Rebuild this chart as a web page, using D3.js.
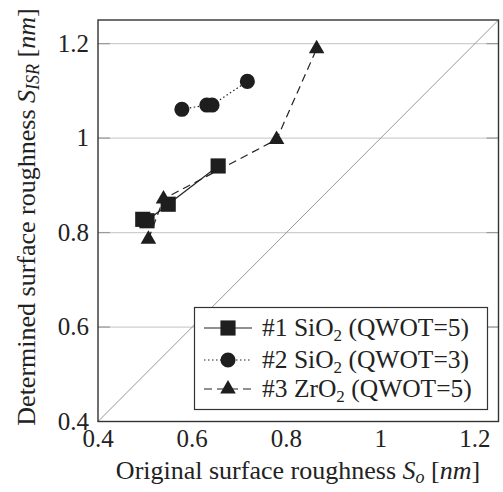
<!DOCTYPE html>
<html>
<head>
<meta charset="utf-8">
<script src="https://cdn.jsdelivr.net/npm/d3@7"></script>
<style>
  body { margin: 0; background: #fff; }
  svg text { font-family: 'Liberation Serif', 'DejaVu Serif', serif; fill: #222; }
</style>
</head>
<body>
<svg id="chart" width="503" height="492"></svg>
<script>
// values
const s1x = [0.495, 0.504, 0.549, 0.655]
const s1y = [0.828, 0.825, 0.86, 0.941]
const s2x = [0.578, 0.631, 0.642, 0.717]
const s2y = [1.061, 1.07, 1.07, 1.12]
const s3x = [0.507, 0.539, 0.779, 0.864]
const s3y = [0.786, 0.871, 0.997, 1.189]
const xTicks = [0.4, 0.6, 0.8, 1, 1.2]
const yTicks = [0.4, 0.6, 0.8, 1, 1.2]
const legendNames = [["#1 SiO", "2", " (QWOT=5)"], ["#2 SiO", "2", " (QWOT=3)"], ["#3 ZrO", "2", " (QWOT=5)"]]

const mLeft = 98, mRight = 498.5, mTop = 20, mBottom = 421.5
const svg = d3.select('#chart')

const x = d3.scaleLinear().domain([0.4, 1.25]).range([mLeft, mRight])
const y = d3.scaleLinear().domain([0.4, 1.25]).range([mBottom, mTop])

// horizontal grid + ticks on both sides
const g = svg.append('g')
const inner = yTicks.filter(d => d > 0.4)
g.append('g').selectAll('line')
    .data(inner)
    .join('line')
    .attr('x1', mLeft).attr('x2', mRight)
    .attr('y1', d => y(d)).attr('y2', d => y(d))
    .attr('stroke', '#cfcfcf').attr('stroke-width', 1.2)
g.append('g').selectAll('line')
    .data(inner)
    .join('line')
    .attr('x1', mLeft).attr('x2', mLeft + 12)
    .attr('y1', d => y(d)).attr('y2', d => y(d))
    .attr('stroke', '#9a9a9a').attr('stroke-width', 1.2)
g.append('g').selectAll('line')
    .data(inner)
    .join('line')
    .attr('x1', mRight - 12).attr('x2', mRight)
    .attr('y1', d => y(d)).attr('y2', d => y(d))
    .attr('stroke', '#9a9a9a').attr('stroke-width', 1.2)

// diagonal y = x
svg.append('line')
    .attr('x1', x(0.4)).attr('y1', y(0.4))
    .attr('x2', x(1.25)).attr('y2', y(1.25))
    .attr('stroke', '#999').attr('stroke-width', 1)

// axis box
svg.append('rect')
    .attr('x', mLeft).attr('y', mTop)
    .attr('width', mRight - mLeft).attr('height', mBottom - mTop)
    .attr('fill', 'none').attr('stroke', '#333').attr('stroke-width', 1.4)

const fmt = d => d === 1 ? '1' : String(d)

svg.append('g').selectAll('text')
    .data(xTicks)
    .join('text')
    .attr('x', d => x(d)).attr('y', 447)
    .attr('text-anchor', 'middle')
    .attr('font-size', 25)
    .text(fmt)

svg.append('g').selectAll('text')
    .data(yTicks)
    .join('text')
    .attr('x', 89).attr('y', d => y(d) + 8)
    .attr('text-anchor', 'end')
    .attr('font-size', 25)
    .text(fmt)

// axis titles
const xt = svg.append('text')
    .attr('x', 298).attr('y', 479)
    .attr('text-anchor', 'middle')
    .attr('font-size', 26)
xt.append('tspan').text('Original surface roughness ')
xt.append('tspan').attr('font-style', 'italic').text('S')
xt.append('tspan').attr('font-style', 'italic').attr('font-size', 18).attr('dy', 4).text('o')
xt.append('tspan').attr('dy', -4).text(' [')
xt.append('tspan').attr('font-style', 'italic').text('nm')
xt.append('tspan').text(']')

const yt = svg.append('text')
    .attr('transform', 'translate(35,217) rotate(-90)')
    .attr('text-anchor', 'middle')
    .attr('font-size', 26)
yt.append('tspan').text('Determined surface roughness ')
yt.append('tspan').attr('font-style', 'italic').text('S')
yt.append('tspan').attr('font-style', 'italic').attr('font-size', 18).attr('dy', 4).text('ISR')
yt.append('tspan').attr('dy', -4).text(' [')
yt.append('tspan').attr('font-style', 'italic').text('nm')
yt.append('tspan').text(']')

// series
const series = [
    {xs: s1x, ys: s1y, dash: null, mark: d3.symbolSquare, size: 230},
    {xs: s2x, ys: s2y, dash: '1.5,2.5', mark: d3.symbolCircle, size: 180},
    {xs: s3x, ys: s3y, dash: '8,5', mark: d3.symbolTriangle, size: 105}
]
const line = d3.line().x(d => x(d[0])).y(d => y(d[1]))

series.forEach(s => {
    const pts = s.xs.map((v, i) => [v, s.ys[i]])
    svg.append('path')
        .attr('d', line(pts))
        .attr('fill', 'none')
        .attr('stroke', '#222')
        .attr('stroke-width', 1.2)
        .attr('stroke-dasharray', s.dash)
    svg.append('g').selectAll('path')
        .data(pts)
        .join('path')
        .attr('transform', d => `translate(${x(d[0])},${y(d[1])})`)
        .attr('d', d3.symbol(s.mark, s.size))
        .attr('fill', '#1e1e1e')
})

// legend
const lg = svg.append('g')
lg.append('rect')
    .attr('x', 194.5).attr('y', 307.5)
    .attr('width', 293).attr('height', 102)
    .attr('fill', '#fff').attr('stroke', '#333').attr('stroke-width', 1.2)
const rowY = [328, 360, 389]
series.forEach((s, i) => {
    const ry = rowY[i]
    lg.append('line')
        .attr('x1', 204).attr('x2', 252)
        .attr('y1', ry).attr('y2', ry)
        .attr('stroke', '#222').attr('stroke-width', 1.2)
        .attr('stroke-dasharray', s.dash)
    lg.append('path')
        .attr('transform', `translate(228,${ry})`)
        .attr('d', d3.symbol(s.mark, s.size))
        .attr('fill', '#1e1e1e')
    const t = lg.append('text')
        .attr('x', 262).attr('y', ry + 8)
        .attr('font-size', 25.5)
    t.append('tspan').text(legendNames[i][0])
    t.append('tspan').attr('font-size', 17).attr('dy', 5).text(legendNames[i][1])
    t.append('tspan').attr('dy', -5).text(legendNames[i][2])
})
</script>
</body>
</html>
